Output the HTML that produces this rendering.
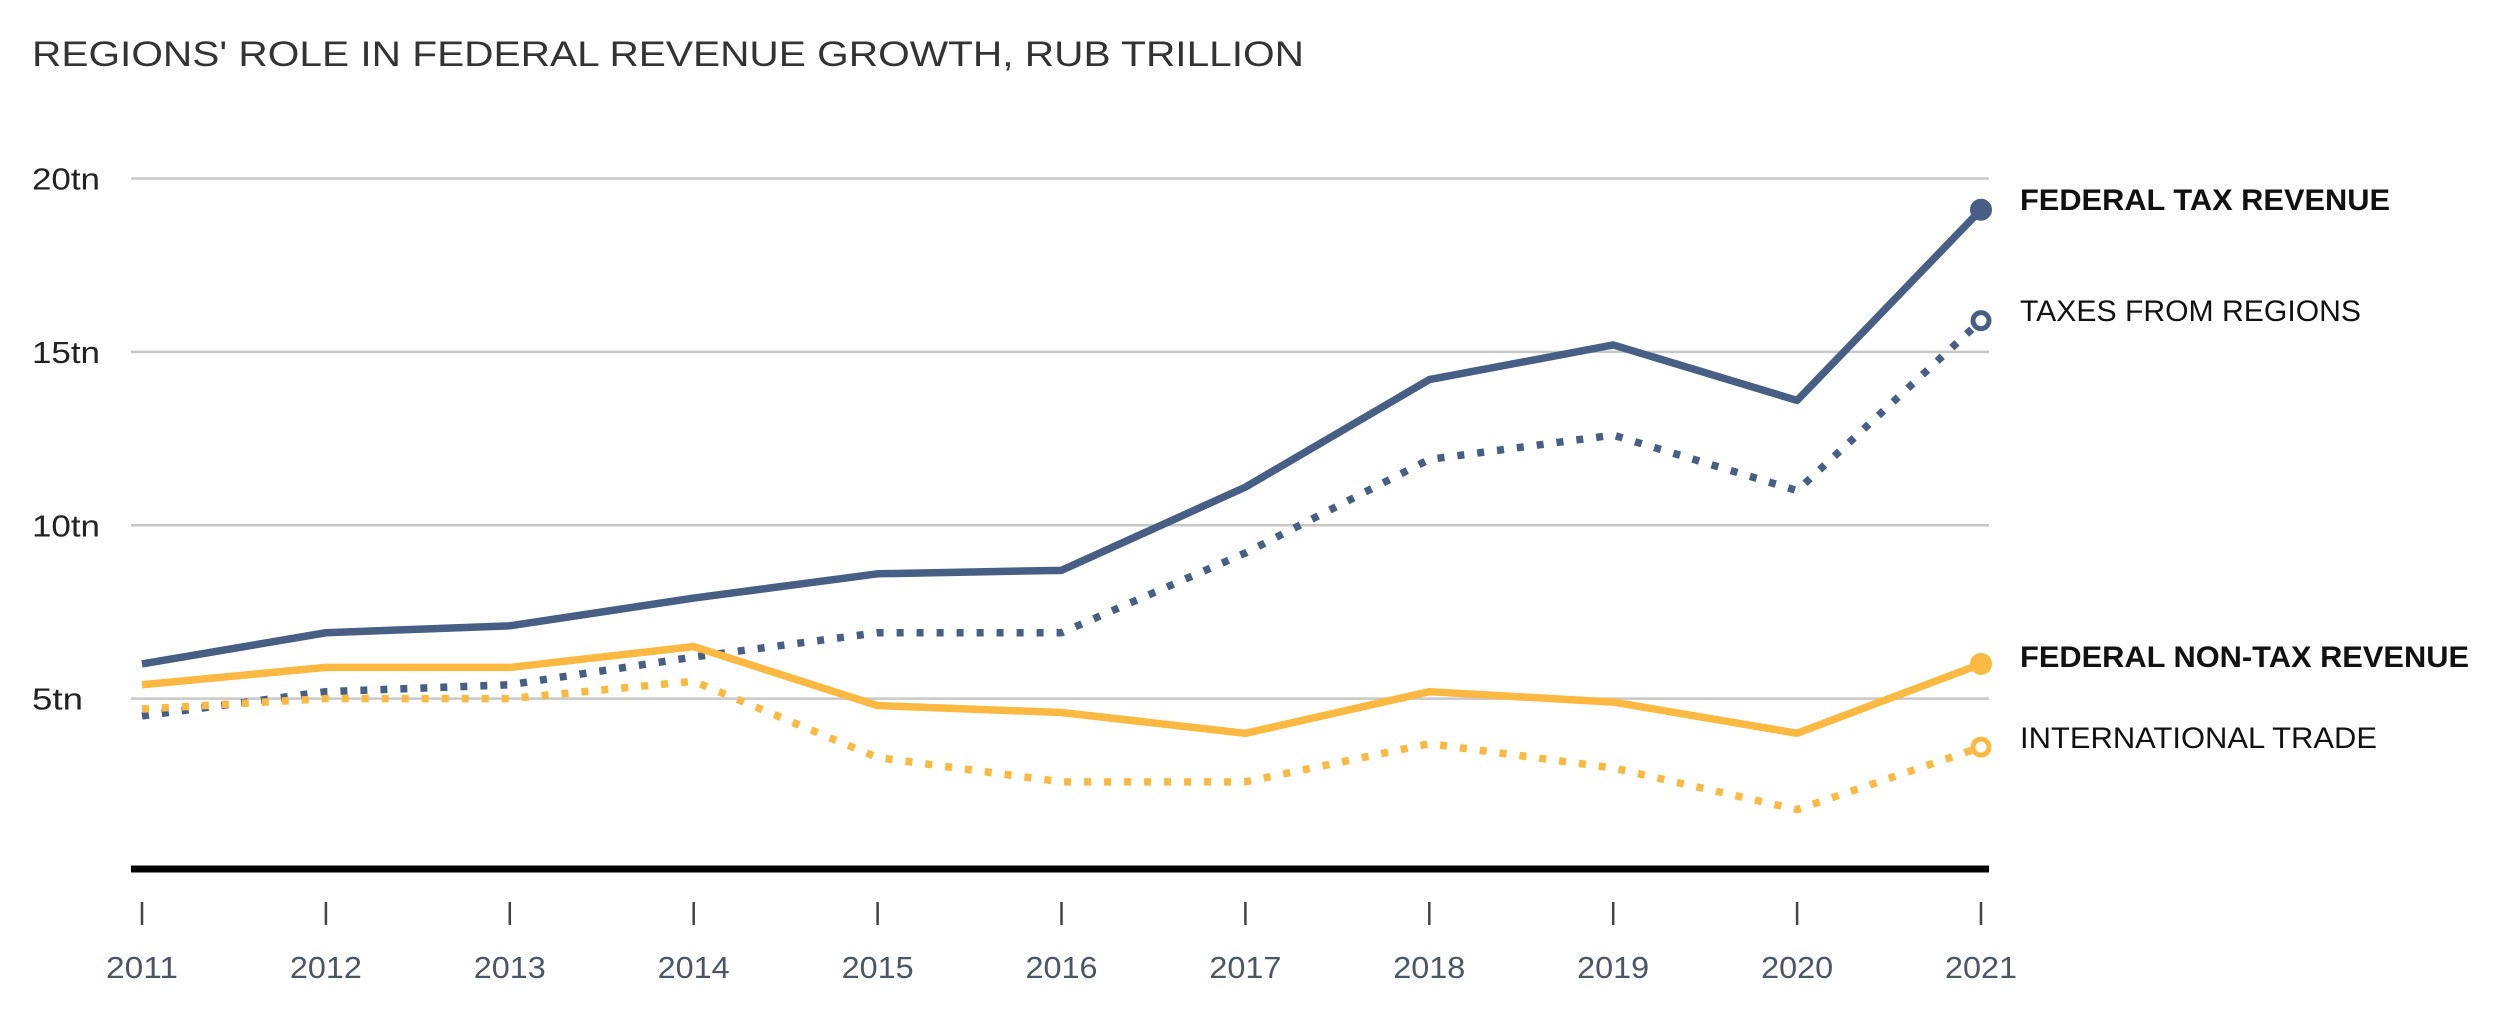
<!DOCTYPE html>
<html><head><meta charset="utf-8"><style>
body{margin:0;background:#fff;}
svg text{font-family:"Liberation Sans",sans-serif;}
</style></head><body>
<svg id="chart" width="2499" height="1012" viewBox="0 0 2499 1012" xmlns="http://www.w3.org/2000/svg">
<text x="32" y="66" font-size="35" fill="#333" textLength="1272" lengthAdjust="spacingAndGlyphs">REGIONS' ROLE IN FEDERAL REVENUE GROWTH, RUB TRILLION</text>
<g id="grid"></g><g id="xaxis"></g><g id="lines"></g><g id="labels"></g>
</svg>
<script>
const years=[2011,2012,2013,2014,2015,2016,2017,2018,2019,2020,2021];
const federalTax=[6.0,6.9,7.1,7.9,8.6,8.7,11.1,14.2,15.2,13.6,19.1];
const taxesFromRegions=[4.5,5.2,5.4,6.2,6.9,6.9,9.2,11.9,12.6,11.0,15.9];
const nonTax=[5.4,5.9,5.9,6.5,4.8,4.6,4.0,5.2,4.9,4.0,6.0];
const intlTrade=[4.7,5.0,5.0,5.5,3.3,2.6,2.6,3.7,3.0,1.8,3.6];
const yTicks=[5,10,15,20];
const yTickLabels=["5tn","10tn","15tn","20tn"];
const NS="http://www.w3.org/2000/svg";
const x=i=>142+i*(1981-142)/(years.length-1);
const y=v=>872-v*(872-178.5)/20;
function mk(t,a,p){const e=document.createElementNS(NS,t);for(const k in a)e.setAttribute(k,a[k]);p.appendChild(e);return e;}
const grid=document.getElementById('grid');
yTicks.forEach((v,i)=>{
  const l=mk('line',{x1:131,x2:1989,y1:y(v),y2:y(v),stroke:'#c8c8c8','stroke-width':2.5},grid);
  
  
  const t=mk('text',{x:32,y:y(v)+11,'font-size':31,fill:'#222',textLength:(yTickLabels[i].length*17),lengthAdjust:'spacingAndGlyphs'},grid);
  t.textContent=yTickLabels[i];
  
  
});
const xa=document.getElementById('xaxis');
const base=mk('line',{x1:131,x2:1989,y1:869,y2:869,stroke:'#000','stroke-width':7},xa);


years.forEach((yr,i)=>{
  const tk=mk('line',{x1:x(i),x2:x(i),y1:902,y2:925,stroke:'#444','stroke-width':2.5},xa);
  
  
  const t=mk('text',{x:x(i),y:978,'font-size':31,fill:'#4a5568','text-anchor':'middle',textLength:72,lengthAdjust:'spacingAndGlyphs'},xa);
  t.textContent=yr;
  
  
});
const lines=document.getElementById('lines');
const series=[
 {d:federalTax,c:'#475f84',dash:null,fill:'#475f84',name:'federal-tax-revenue',label:'FEDERAL TAX REVENUE',bold:true,ly:210,w:370},
 {d:taxesFromRegions,c:'#475f84',dash:'7 13',fill:'#fff',name:'taxes-from-regions',label:'TAXES FROM REGIONS',bold:false,ly:321,w:341},
 {d:nonTax,c:'#fbb942',dash:null,fill:'#fbb942',name:'federal-non-tax-revenue',label:'FEDERAL NON-TAX REVENUE',bold:true,ly:667,w:449},
 {d:intlTrade,c:'#fbb942',dash:'7 13',fill:'#fff',name:'international-trade',label:'INTERNATIONAL TRADE',bold:false,ly:748,w:357}
];
const lab=document.getElementById('labels');
series.forEach(s=>{
  const pts=s.d.map((v,i)=>x(i)+','+y(v)).join(' ');
  const a={points:pts,fill:'none',stroke:s.c,'stroke-width':7.5,'stroke-linejoin':'round'};
  if(s.dash)a['stroke-dasharray']=s.dash;
  const pl=mk('polyline',a,lines);
  
  
  const n=s.d.length-1;
  const c=mk('circle',{cx:x(n),cy:y(s.d[n]),r:s.fill==='#fff'?8:10,fill:s.fill,stroke:s.c,'stroke-width':s.fill==='#fff'?5:2},lines);
  
  
  const t=mk('text',{x:2020,y:s.ly,'font-size':30,fill:'#111','font-weight':s.bold?'bold':'normal',textLength:s.w,lengthAdjust:'spacingAndGlyphs'},lab);
  t.textContent=s.label;
  
  
});
</script>
</body></html>
